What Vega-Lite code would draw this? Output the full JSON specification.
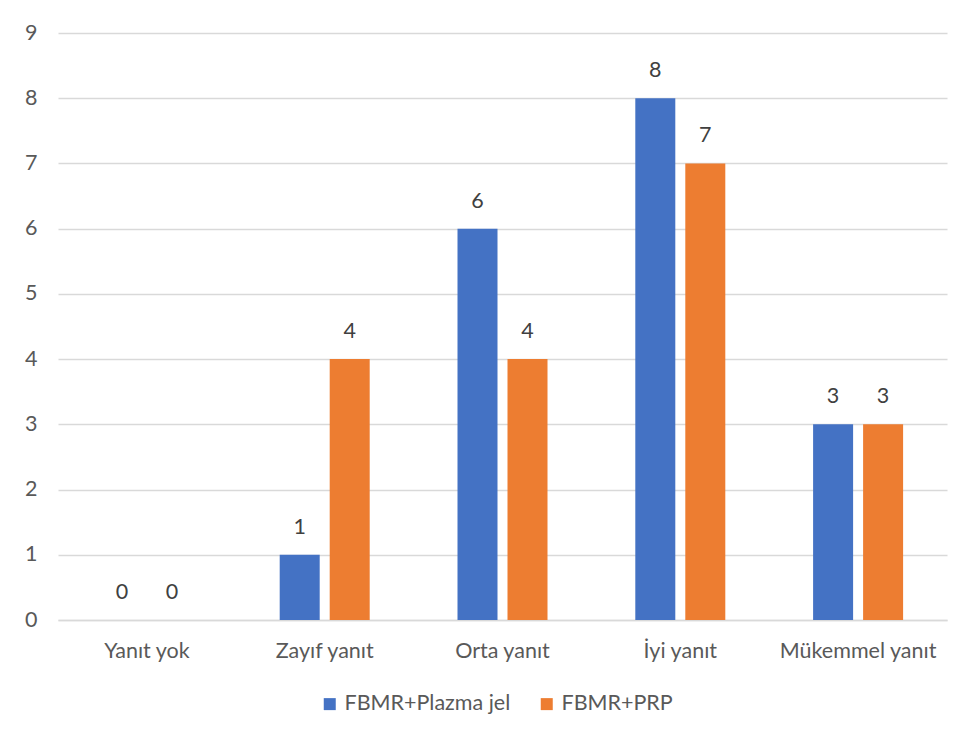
{
  "$schema": "https://vega.github.io/schema/vega-lite/v6.json",
  "width": 889,
  "height": 587,
  "autosize": {"type": "none"},
  "padding": {"left": 58, "top": 33, "right": 19, "bottom": 119},
  "background": "white",
  "config": {
    "font": "Lato",
    "view": {"stroke": null},
    "axis": {"labelFont": "Lato", "labelFontSize": 21.5, "labelColor": "#595959"}
  },
  "data": {
    "values": [
      {"kategori": "Yanıt yok", "grup": "FBMR+Plazma jel", "deger": 0},
      {"kategori": "Yanıt yok", "grup": "FBMR+PRP", "deger": 0},
      {"kategori": "Zayıf yanıt", "grup": "FBMR+Plazma jel", "deger": 1},
      {"kategori": "Zayıf yanıt", "grup": "FBMR+PRP", "deger": 4},
      {"kategori": "Orta yanıt", "grup": "FBMR+Plazma jel", "deger": 6},
      {"kategori": "Orta yanıt", "grup": "FBMR+PRP", "deger": 4},
      {"kategori": "İyi yanıt", "grup": "FBMR+Plazma jel", "deger": 8},
      {"kategori": "İyi yanıt", "grup": "FBMR+PRP", "deger": 7},
      {"kategori": "Mükemmel yanıt", "grup": "FBMR+Plazma jel", "deger": 3},
      {"kategori": "Mükemmel yanıt", "grup": "FBMR+PRP", "deger": 3}
    ]
  },
  "encoding": {
    "x": {
      "field": "kategori", "type": "nominal", "sort": null,
      "scale": {"paddingInner": 0, "paddingOuter": 0},
      "axis": {"title": null, "labelAngle": 0, "ticks": false, "domainColor": "#d9d9d9", "domainWidth": 1.5, "labelPadding": 20}
    },
    "xOffset": {
      "field": "grup", "type": "nominal",
      "sort": ["FBMR+Plazma jel", "FBMR+PRP"],
      "scale": {"paddingInner": 0, "paddingOuter": 0.778}
    },
    "y": {
      "field": "deger", "type": "quantitative",
      "scale": {"domain": [0, 9], "nice": false},
      "axis": {"title": null, "values": [0,1,2,3,4,5,6,7,8,9], "domain": false, "ticks": false, "gridColor": "#d9d9d9", "gridWidth": 1.5, "labelPadding": 21}
    }
  },
  "layer": [
    {
      "mark": {"type": "bar", "width": 40},
      "encoding": {
        "color": {
          "field": "grup", "type": "nominal",
          "sort": ["FBMR+Plazma jel", "FBMR+PRP"],
          "scale": {"domain": ["FBMR+Plazma jel", "FBMR+PRP"], "range": ["#4472C4", "#ED7D31"]},
          "legend": {
            "title": null, "orient": "none", "direction": "horizontal",
            "legendX": 261, "legendY": 660, "padding": 0,
            "symbolType": "square", "symbolSize": 144, "symbolStrokeWidth": 0,
            "labelFontSize": 21.5, "labelColor": "#595959", "labelFont": "Lato",
            "labelOffset": 4, "labelLimit": 400, "columnPadding": 25
          }
        }
      }
    },
    {
      "mark": {"type": "text", "baseline": "alphabetic", "dy": -21, "fontSize": 21.5, "color": "#404040"},
      "encoding": {"text": {"field": "deger", "type": "quantitative"}}
    }
  ]
}
